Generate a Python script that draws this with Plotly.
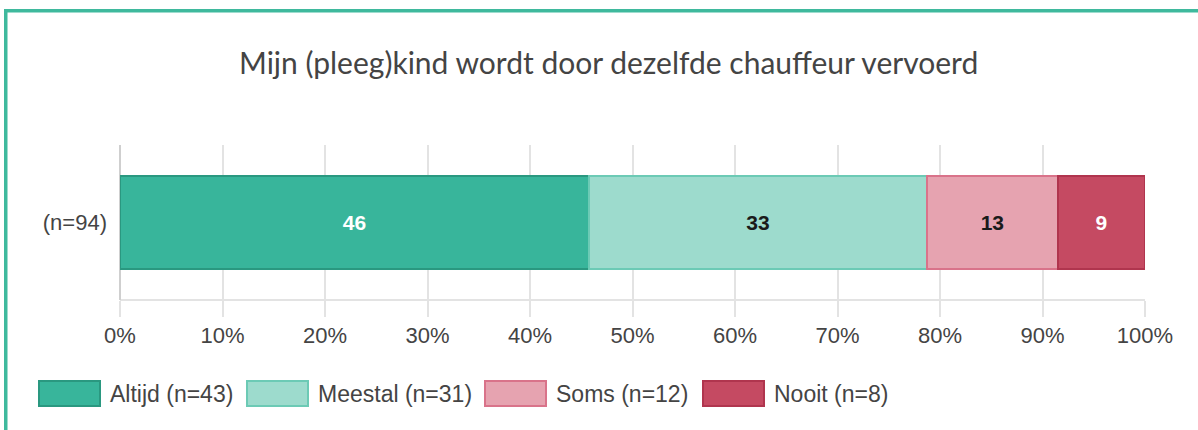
import plotly.graph_objects as go

# ---- data ----
title_text = "Mijn (pleeg)kind wordt door dezelfde chauffeur vervoerd"
category = ["(n=94)"]
series_names = ["Altijd", "Meestal", "Soms", "Nooit"]
series_counts = [43, 31, 12, 8]
tick_values = [0, 10, 20, 30, 40, 50, 60, 70, 80, 90, 100]
tick_labels = ["0%", "10%", "20%", "30%", "40%", "50%", "60%", "70%", "80%", "90%", "100%"]

# ---- styles ----
fill_colors = ["#38b59b", "#9ddbcd", "#e6a3b0", "#c54a62"]
line_colors = ["#2a9880", "#6ccab5", "#d9738a", "#b0354e"]
text_colors = ["#ffffff", "#1a1a1a", "#1a1a1a", "#ffffff"]
FONT = "Liberation Sans, Arial, sans-serif"

W, H = 1198, 430
L, R, T, B = 120, 1145, 145, 300


def px_x(x):
    return (x - L) / (R - L)


def px_y(y):
    return (B - y) / (B - T)


total = sum(series_counts)
fig = go.Figure()
for name, cnt, fc, lc, tc in zip(series_names, series_counts, fill_colors, line_colors, text_colors):
    pct = cnt / total * 100
    fig.add_trace(go.Bar(
        y=category, x=[pct], orientation="h", name=f"{name} (n={cnt})",
        marker=dict(color=fc, line=dict(color=lc, width=2)),
        text=[f"{pct:.0f}"], textposition="inside", insidetextanchor="middle",
        textfont=dict(family=FONT, size=21, color=tc, weight="bold"),
        hoverinfo="skip", showlegend=False,
    ))

# manual legend (large swatches)
legend_box_x = [39, 247, 485, 703]
box_w, box_top, box_bot = 61, 381, 406
for i, (name, cnt) in enumerate(zip(series_names, series_counts)):
    x0 = legend_box_x[i]
    fig.add_shape(type="rect", xref="paper", yref="paper",
                  x0=px_x(x0), x1=px_x(x0 + box_w), y0=px_y(box_bot), y1=px_y(box_top),
                  fillcolor=fill_colors[i], line=dict(color=line_colors[i], width=2), layer="above")
    fig.add_annotation(xref="paper", yref="paper", x=px_x(x0 + box_w + 8), y=px_y(393.5),
                       xanchor="left", yanchor="middle", showarrow=False,
                       text=f"{name} (n={cnt})",
                       font=dict(family=FONT, size=23, color="#444444"))

# title
fig.add_annotation(xref="paper", yref="paper", x=px_x(608.5), y=px_y(62),
                   xanchor="center", yanchor="middle", showarrow=False,
                   text=title_text, font=dict(family="Lato, sans-serif", size=30, color="#444444"))

# teal frame (top and left)
fig.add_shape(type="rect", xref="paper", yref="paper",
              x0=px_x(4), x1=px_x(W + 20), y0=px_y(9), y1=px_y(12.5),
              fillcolor="#3fb99d", line=dict(width=0), layer="above")
fig.add_shape(type="rect", xref="paper", yref="paper",
              x0=px_x(4), x1=px_x(7.5), y0=px_y(H + 20), y1=px_y(9),
              fillcolor="#3fb99d", line=dict(width=0), layer="above")
# horizontal baseline
fig.add_shape(type="line", xref="paper", yref="paper",
              x0=0, x1=1, y0=0, y1=0, line=dict(color="#e3e3e3", width=2), layer="below")

fig.update_layout(
    width=W, height=H, barmode="stack", bargap=0.4,
    margin=dict(l=L, r=W - R, t=T, b=H - B, pad=0),
    paper_bgcolor="white", plot_bgcolor="white", showlegend=False,
    font=dict(family=FONT, color="#444444"),
    xaxis=dict(range=[0, 100], tickvals=tick_values, ticktext=tick_labels,
               showgrid=True, gridcolor="#e3e3e3", gridwidth=2,
               ticks="outside", ticklen=16, tickcolor="#e3e3e3", tickwidth=2,
               tickfont=dict(family=FONT, size=22, color="#444444"),
               zeroline=True, zerolinecolor="#cfcfcf", zerolinewidth=2,
               showline=False, fixedrange=True),
    yaxis=dict(range=[-0.5, 0.5], showgrid=False, zeroline=False, showline=False,
               ticks="", ticklabelstandoff=12,
               tickfont=dict(family=FONT, size=22, color="#444444"), fixedrange=True),
)

fig.write_html("out.html", config={"displayModeBar": False},
               post_script="document.body.style.margin='0';")
